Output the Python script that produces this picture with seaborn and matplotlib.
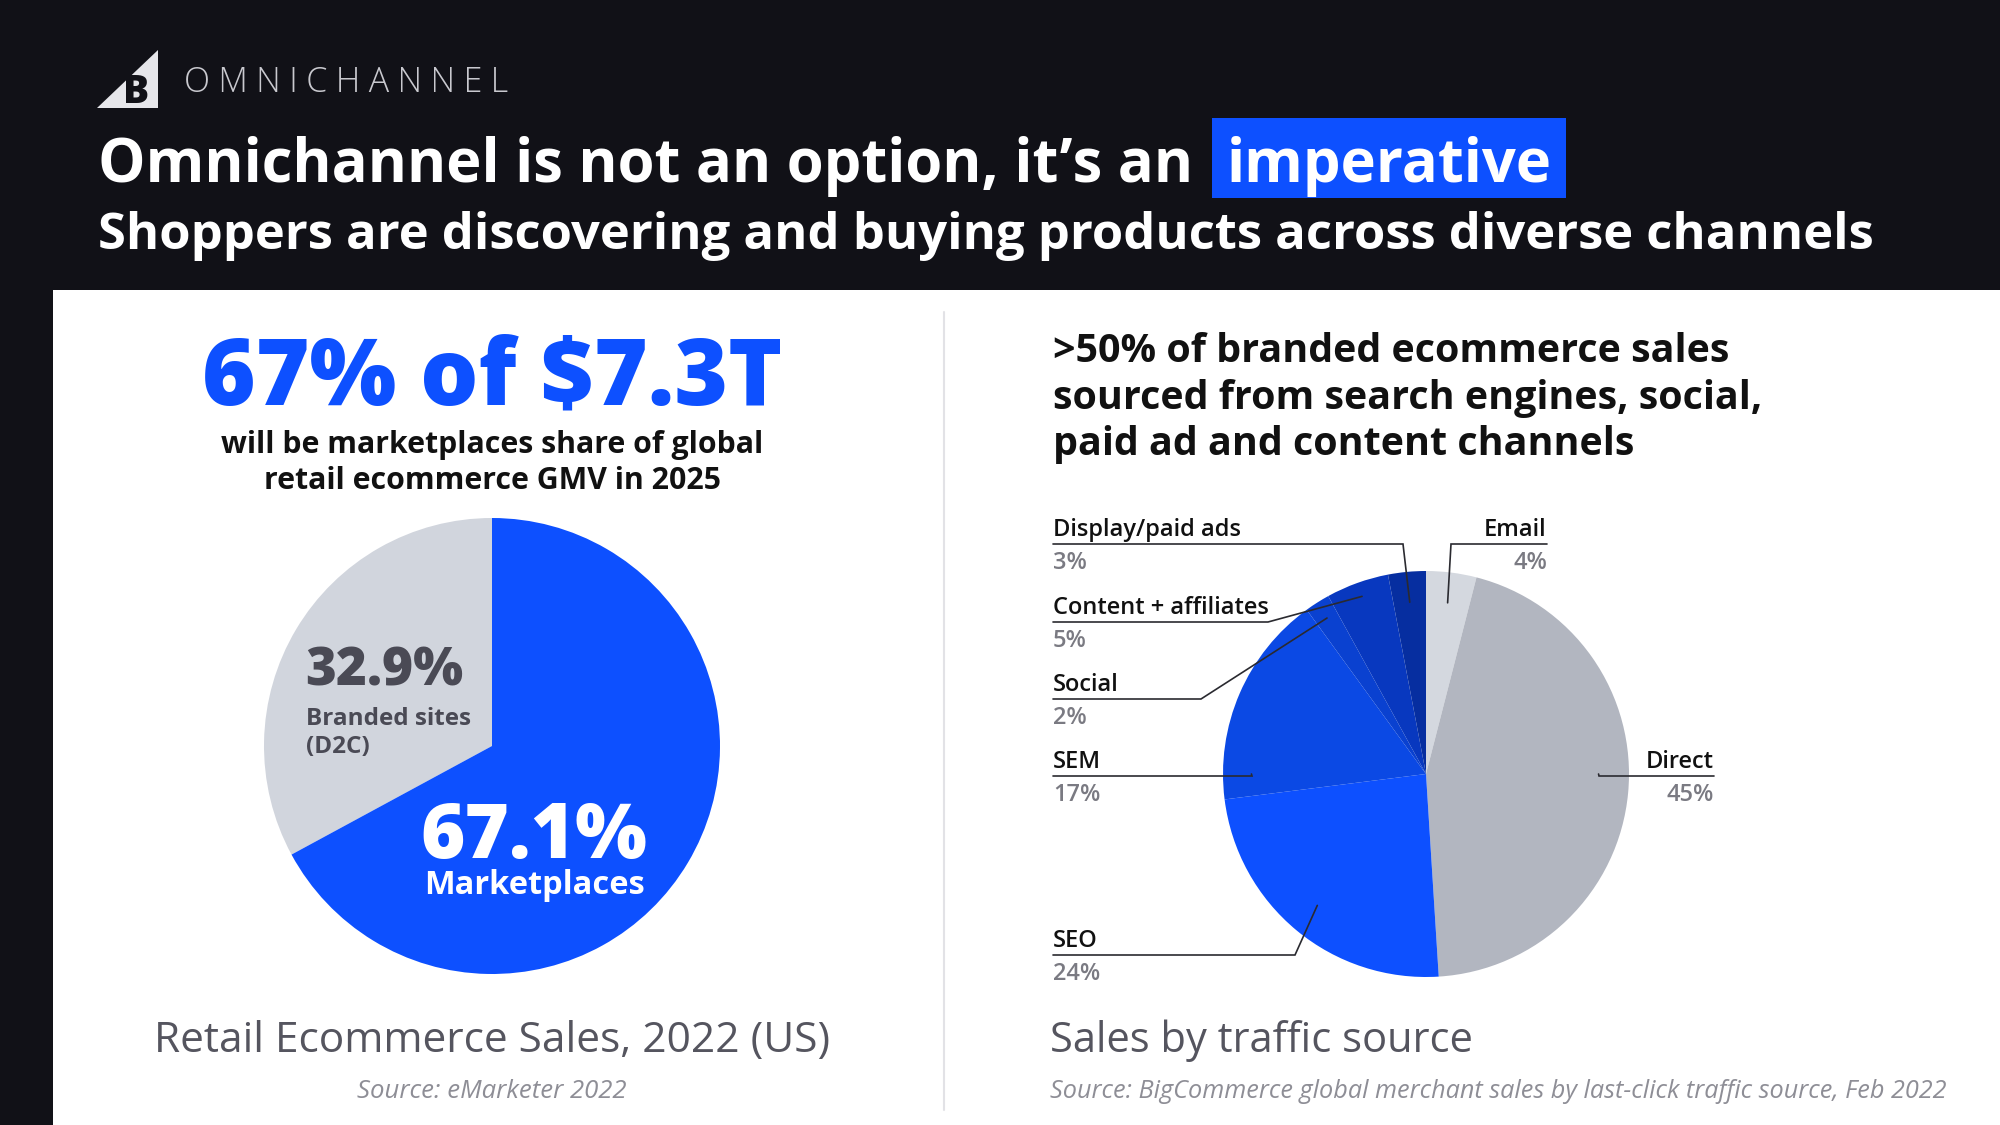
"""Omnichannel slide: marketplace share and sales by traffic source."""

import matplotlib

matplotlib.use("Agg")
import matplotlib.pyplot as plt
import numpy as np
import seaborn as sns
from matplotlib.patches import Polygon, Rectangle


# --- data -------------------------------------------------------------------
market_labels = ["Branded sites\n(D2C)", "Marketplaces"]
market_share = [32.9, 67.1]

traffic_sources = ["Email", "Direct", "SEO", "SEM", "Social", "Content + affiliates", "Display/paid ads"]
traffic_share = [4, 45, 24, 17, 2, 5, 3]

headline = "67% of $7.3T"
headline_note = "will be marketplaces share of global\nretail ecommerce GMV in 2025"
right_heading = [
    ">50% of branded ecommerce sales",
    "sourced from search engines, social,",
    "paid ad and content channels",
]

# --- style ------------------------------------------------------------------
DARK = "#111117"
BLUE = "#0d50ff"
market_colors = ["#d1d5dd", BLUE]
traffic_colors = ["#d4d8df", "#b2b6c0", "#0d50ff", "#0b49e4", "#0a41d0", "#0838bf", "#062ea0"]
TEXT_GRAY = "#55555f"
PCT_GRAY = "#7a7a82"
LINE = "#2a2a30"

W, H = 2000, 1125


def Y(y):
    # layout is measured from the top of the slide
    return H - y


sns.set_theme(style="white")
plt.rcParams["font.family"] = ["Open Sans", "DejaVu Sans"]

fig = plt.figure(figsize=(20, 11.25), dpi=100)
fig.patch.set_facecolor(DARK)
ax = fig.add_axes([0, 0, 1, 1])

# header
ax.add_patch(Polygon([(158, Y(50)), (97, Y(108)), (158, Y(108))], closed=True, color="#e6e6ea", lw=0))
ax.text(136, Y(103), "B", color=DARK, fontsize=28, fontweight="black", ha="center", va="baseline")
ax.text(184, Y(92), "\u2005".join("OMNICHANNEL"), color="#c9c9cf", fontsize=24.5, fontweight="light",
        ha="left", va="baseline")
ax.text(98, Y(182), "Omnichannel is not an option, it\u2019s an", color="white", fontsize=43,
        fontweight="bold", ha="left", va="baseline")
ax.add_patch(Rectangle((1212, Y(198)), 354, 80, color=BLUE, lw=0))
ax.text(1389, Y(182), "imperative", color="white", fontsize=43, fontweight="bold", ha="center", va="baseline")
ax.text(98, Y(249), "Shoppers are discovering and buying products across diverse channels", color="white",
        fontsize=36.5, fontweight="bold", ha="left", va="baseline")

# white panel + divider
ax.add_patch(Rectangle((53, 0), W - 53, Y(290), color="white", lw=0, zorder=0))
ax.plot([944, 944], [Y(312), Y(1110)], color="#e2e2e6", lw=1.5)

# --- left: marketplaces pie -------------------------------------------------
ax.text(492, Y(405), headline, color=BLUE, fontsize=66, fontweight="heavy", ha="center", va="baseline")
ax.text(492, Y(453), headline_note.split("\n")[0], color="#111111", fontsize=21.8, fontweight="bold",
        ha="center", va="baseline")
ax.text(492, Y(489), headline_note.split("\n")[1], color="#111111", fontsize=21.8, fontweight="bold",
        ha="center", va="baseline")

left_center = (492, Y(746))
ax.pie(market_share, colors=market_colors, startangle=90, counterclock=True, center=left_center,
       radius=228, frame=True, wedgeprops=dict(linewidth=0))

ax.text(305, Y(686), f"{market_share[0]}%", color="#4a4a55", fontsize=38, fontweight="heavy",
        ha="left", va="baseline")
for i, line in enumerate(market_labels[0].split("\n")):
    ax.text(306, Y(725 + 28 * i), line, color="#4a4a55", fontsize=17.5, fontweight="bold",
            ha="left", va="baseline")
ax.text(420, Y(858), f"{market_share[1]}%", color="white", fontsize=54.5, fontweight="heavy",
        ha="left", va="baseline")
ax.text(424, Y(894), market_labels[1], color="white", fontsize=23.5, fontweight="bold",
        ha="left", va="baseline")

ax.text(492, Y(1052), "Retail Ecommerce Sales, 2022 (US)", color=TEXT_GRAY, fontsize=30.5,
        ha="center", va="baseline")
ax.text(492, Y(1098), "Source: eMarketer 2022", color="#8e8e96", fontsize=18.5, fontstyle="italic",
        ha="center", va="baseline")

# --- right: traffic source pie ----------------------------------------------
for i, line in enumerate(right_heading):
    ax.text(1053, Y(362 + 46.5 * i), line, color="#111111", fontsize=28.4, fontweight="bold",
            ha="left", va="baseline")

cx, cy, r = 1426, Y(774), 203
ax.pie(traffic_share, colors=traffic_colors, startangle=90, counterclock=False, center=(cx, cy),
       radius=r, frame=True, wedgeprops=dict(linewidth=0))

cum = np.cumsum([0] + traffic_share)
mid_angle = 90 - 3.6 * (cum[:-1] + cum[1:]) / 2

# label x, name baseline, text side, elbow x, pointer radius, pointer angle (None = wedge middle)
label_layout = {
    "Display/paid ads": (1053, 536, "left", 1403, 0.85, None),
    "Email": (1547, 536, "right", 1451, 0.85, None),
    "Content + affiliates": (1053, 614, "left", 1268, 0.93, None),
    "Social": (1053, 691, "left", 1201, 0.91, None),
    "SEM": (1053, 768, "left", 1252, 0.86, 180),
    "Direct": (1714, 768, "right", 1599, 0.85, 0),
    "SEO": (1053, 947, "left", 1295, 0.84, None),
}

for name, share, ang in zip(traffic_sources, traffic_share, mid_angle):
    tx, base, side, elbow, frac, fixed = label_layout[name]
    a = np.deg2rad(ang if fixed is None else fixed)
    px, py = cx + frac * r * np.cos(a), cy + frac * r * np.sin(a)
    uy = Y(base + 8)
    ax.plot([tx, elbow, px], [uy, uy, py], color=LINE, lw=1.2, solid_joinstyle="miter", zorder=5)
    ax.text(tx, Y(base), name, color="#111111", fontsize=17, fontweight="semibold", ha=side, va="baseline")
    ax.text(tx, Y(base + 33), f"{share}%", color=PCT_GRAY, fontsize=17, fontweight="semibold",
            ha=side, va="baseline")

ax.text(1050, Y(1052), "Sales by traffic source", color=TEXT_GRAY, fontsize=30, ha="left", va="baseline")
ax.text(1050, Y(1098), "Source: BigCommerce global merchant sales by last-click traffic source, Feb 2022",
        color="#8e8e96", fontsize=18.2, fontstyle="italic", ha="left", va="baseline")

ax.set_xlim(0, W)
ax.set_ylim(0, H)
ax.set_aspect("equal")
ax.set_axis_off()

fig.savefig("out.png", dpi=100, facecolor=fig.get_facecolor())
